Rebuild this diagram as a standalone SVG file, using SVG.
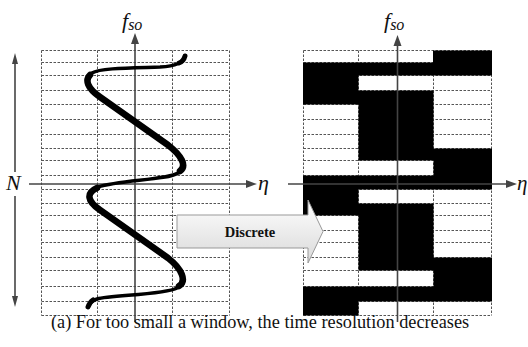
<svg xmlns="http://www.w3.org/2000/svg" width="528" height="347" viewBox="0 0 528 347">
<defs>
<style>
.grid{fill:none;stroke:#555;stroke-width:1;stroke-dasharray:2.5 1.5}
.axis{stroke:#444;stroke-width:1.6;fill:none}
.head{fill:#444}
.thin{fill:none;stroke:#000;stroke-width:3.5;stroke-linecap:round;stroke-linejoin:round}
.thick{fill:none;stroke:#000;stroke-width:6.5;stroke-linecap:round;stroke-linejoin:round}
</style>
<linearGradient id="ag" x1="0" y1="0" x2="0" y2="1">
<stop offset="0" stop-color="#ffffff"/>
<stop offset="1" stop-color="#d9d9d9"/>
</linearGradient>
</defs>
<rect width="528" height="347" fill="#fff"/>

<g id="left-grid">
<path class="grid" d="M41.5,50.5H229.5M41.5,62.5H229.5M41.5,75.5H229.5M41.5,90.5H229.5M41.5,104.5H229.5M41.5,119.5H229.5M41.5,134.5H229.5M41.5,148.5H229.5M41.5,160.5H229.5M41.5,175.5H229.5M41.5,189.5H229.5M41.5,203.5H229.5M41.5,215.5H229.5M41.5,230.5H229.5M41.5,242.5H229.5M41.5,257.5H229.5M41.5,270.5H229.5M41.5,286.5H229.5M41.5,301.5H229.5M41.5,315.5H229.5M41.5,50.5V315.5M97.5,50.5V315.5M172.5,50.5V315.5M229.5,50.5V315.5"/>
</g>

<g id="right-grid">
<path class="grid" d="M303.5,50.5H491.5M303.5,62.5H491.5M303.5,75.5H491.5M303.5,90.5H491.5M303.5,104.5H491.5M303.5,119.5H491.5M303.5,134.5H491.5M303.5,148.5H491.5M303.5,160.5H491.5M303.5,175.5H491.5M303.5,189.5H491.5M303.5,203.5H491.5M303.5,215.5H491.5M303.5,230.5H491.5M303.5,242.5H491.5M303.5,257.5H491.5M303.5,270.5H491.5M303.5,286.5H491.5M303.5,301.5H491.5M303.5,315.5H491.5M303.5,50.5V315.5M358.5,50.5V315.5M433.5,50.5V315.5M491.5,50.5V315.5"/>
<path fill="#000" d="M433,50.5H492V62.5H433Z M303,62.5H492V75.5H303Z M303,75.5H358.5V90.5H303Z M303,90.5H433.5V104.5H303Z M358.5,104.5H433.5V148.5H358.5Z M358.5,148.5H492V160.5H358.5Z M433.5,160.5H492V175.5H433.5Z M303,175.5H492V189.5H303Z M303,189.5H358.5V203.5H303Z M303,203.5H433.5V215.5H303Z M358.5,215.5H433.5V257.5H358.5Z M358.5,257.5H492V270.5H358.5Z M433.5,270.5H492V286.5H433.5Z M303,286.5H492V301.5H303Z M303,301.5H358.5V315.5H303Z"/>
</g>

<g id="connectors">
<line class="axis" x1="135" y1="322" x2="135" y2="42"/>
<polygon class="head" points="135,33 131,44 139,44"/>
<line class="axis" x1="29" y1="184" x2="247" y2="184"/>
<polygon class="head" points="257,184 246,180 246,188"/>
<line class="axis" x1="397.5" y1="322" x2="397.5" y2="44"/>
<polygon class="head" points="397.5,35 393.5,46 401.5,46"/>
<line class="axis" x1="288" y1="184" x2="508" y2="184"/>
<polygon class="head" points="517,184 506,180 506,188"/>
<line class="axis" x1="15" y1="172" x2="15" y2="62" stroke-width="1.3"/>
<polygon class="head" points="15,53 12,64 18,64"/>
<line class="axis" x1="15" y1="196" x2="15" y2="298" stroke-width="1.3"/>
<polygon class="head" points="15,307 12,296 18,296"/>
</g>

<g id="curve">
<path class="thin" d="M185,56 C183,63 176,66 160,67 C130,68 100,68 92,73 C85,78 87,88 100,97 L168,145 C182,156 187,166 178,173 C168,180 120,180 98,187 C86,192 87,201 100,210 L168,258 C182,269 187,281 177,288 C165,295 110,295 97,299 C91,301 89,304 88,307"/>
<path class="thick" d="M90,75 C85,80 87,88 100,97 L168,145 C182,156 187,166 180,171 M97,188 C86,193 87,201 100,210 L168,258 C182,269 187,281 179,286"/>
<path fill="none" stroke="#000" stroke-width="5" stroke-linecap="round" d="M185,56 C184,60 182,62 179,63 M93,300 C90,302 89,304 88,307"/>
</g>

<g id="labels" font-family="Liberation Serif, Times New Roman, serif" font-style="italic" fill="#111">
<text x="122" y="28" font-size="22">f<tspan font-size="16" dy="2">so</tspan></text>
<text x="384" y="28" font-size="22">f<tspan font-size="16" dy="2">so</tspan></text>
<text x="6" y="190" font-size="22">N</text>
<text x="258" y="190" font-size="22">η</text>
<text x="517" y="190" font-size="21">η</text>
</g>

<g id="discrete">
<polygon points="177,215 308,215 308,200 323,231.5 308,263 308,248 177,248" fill="url(#ag)" stroke="#999" stroke-width="1"/>
<text x="250" y="237" text-anchor="middle" font-family="Liberation Serif, Times New Roman, serif" font-weight="bold" font-size="14.5" fill="#111">Discrete</text>
</g>

<text x="51" y="328" font-family="Liberation Serif, Times New Roman, serif" font-size="18.3" fill="#111">(a) For too small a window, the time resolution decreases</text>
</svg>
